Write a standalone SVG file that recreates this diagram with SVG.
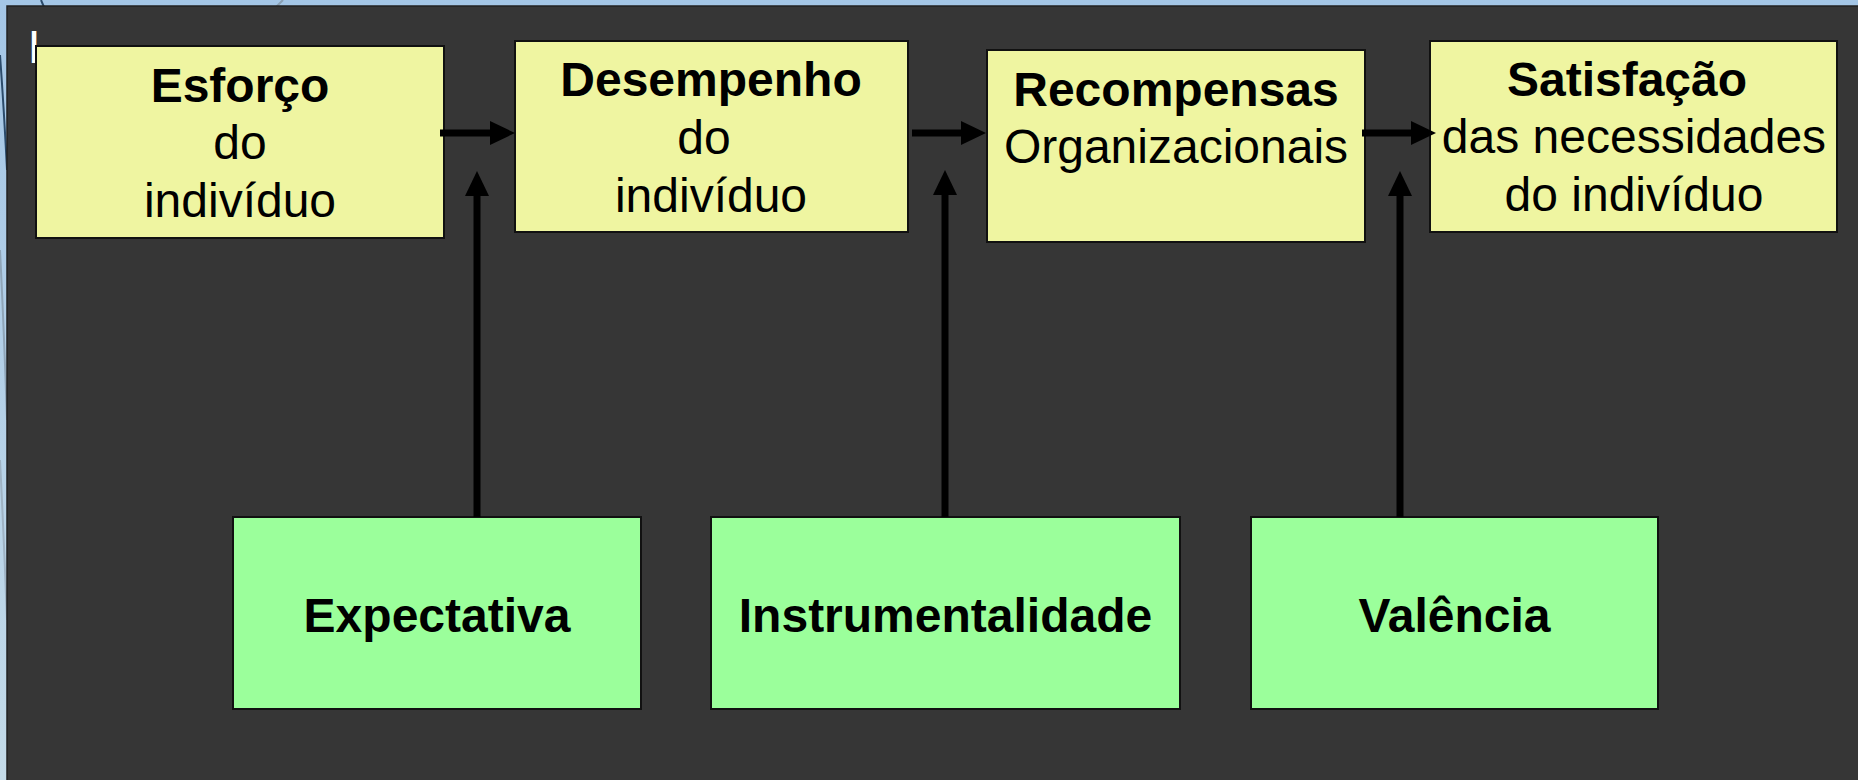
<svg xmlns="http://www.w3.org/2000/svg" width="1858" height="780" viewBox="0 0 1858 780">
<defs>
<linearGradient id="bg" x1="0" y1="0" x2="0" y2="1">
<stop offset="0" stop-color="#a4c6e6"/>
<stop offset="1" stop-color="#c4dbe9"/>
</linearGradient>
<marker id="ah" viewBox="0 0 25 24" refX="0" refY="12" markerWidth="25" markerHeight="24" markerUnits="userSpaceOnUse" orient="auto">
<path d="M0,0 L25,12 L0,24 Z" fill="#000"/>
</marker>
</defs>
<style>
.box{stroke:#111;stroke-width:2}
.y{fill:#eff5a1}
.g{fill:#9bff9b}
.t{font-family:"Liberation Sans",Arial,sans-serif;font-size:48px;fill:#000;text-anchor:middle}
.b{font-weight:bold}
.conn line{stroke:#000;stroke-width:7;marker-end:url(#ah)}
</style>
<rect width="1858" height="780" fill="url(#bg)"/>
<path d="M41,0 L44,7" stroke="#2b4b6b" stroke-width="2" fill="none"/>
<path d="M283,0 L276,7" stroke="#8aa0b4" stroke-width="2" fill="none"/>
<path d="M0,55 Q4,110 7,170" stroke="#2b4b6b" stroke-width="2" fill="none"/>
<path d="M0,250 Q4,330 7,420" stroke="#8fa5b8" stroke-width="2" fill="none"/>
<path d="M0,460 Q4,540 7,620" stroke="#9fb3c4" stroke-width="2" fill="none"/>
<rect x="7" y="6" width="1860" height="790" fill="#363636" stroke="#222" stroke-width="1.5"/>
<text x="28" y="63" style="font-family:'Liberation Sans',Arial,sans-serif;font-size:47px;fill:#fff">L</text>

<g id="esforco">
<rect class="box y" x="36" y="46" width="408" height="192"/>
<text class="t b" x="240" y="102">Esforço</text>
<text class="t" x="240" y="159">do</text>
<text class="t" x="240" y="217">indivíduo</text>
</g>
<g id="desempenho">
<rect class="box y" x="515" y="41" width="393" height="191"/>
<text class="t b" x="711" y="96">Desempenho</text>
<text class="t" x="704" y="154">do</text>
<text class="t" x="711" y="212">indivíduo</text>
</g>
<g id="recompensas">
<rect class="box y" x="987" y="50" width="378" height="192"/>
<text class="t b" x="1176" y="106">Recompensas</text>
<text class="t" x="1176" y="163">Organizacionais</text>
</g>
<g id="satisfacao">
<rect class="box y" x="1430" y="41" width="407" height="191"/>
<text class="t b" x="1627" y="96">Satisfação</text>
<text class="t" x="1634" y="153">das necessidades</text>
<text class="t" x="1634" y="211">do indivíduo</text>
</g>
<g id="expectativa">
<rect class="box g" x="233" y="517" width="408" height="192"/>
<text class="t b" x="437" y="632">Expectativa</text>
</g>
<g id="instrumentalidade">
<rect class="box g" x="711" y="517" width="469" height="192"/>
<text class="t b" x="945.5" y="632">Instrumentalidade</text>
</g>
<g id="valencia">
<rect class="box g" x="1251" y="517" width="407" height="192"/>
<text class="t b" x="1454.5" y="632">Valência</text>
</g>

<g id="connectors" class="conn">
<line x1="440" y1="133" x2="490" y2="133"/>
<line x1="912" y1="133" x2="961" y2="133"/>
<line x1="1362" y1="133" x2="1411" y2="133"/>
<line x1="477" y1="517" x2="477" y2="196"/>
<line x1="945" y1="517" x2="945" y2="195"/>
<line x1="1400" y1="517" x2="1400" y2="196"/>
</g>
</svg>
